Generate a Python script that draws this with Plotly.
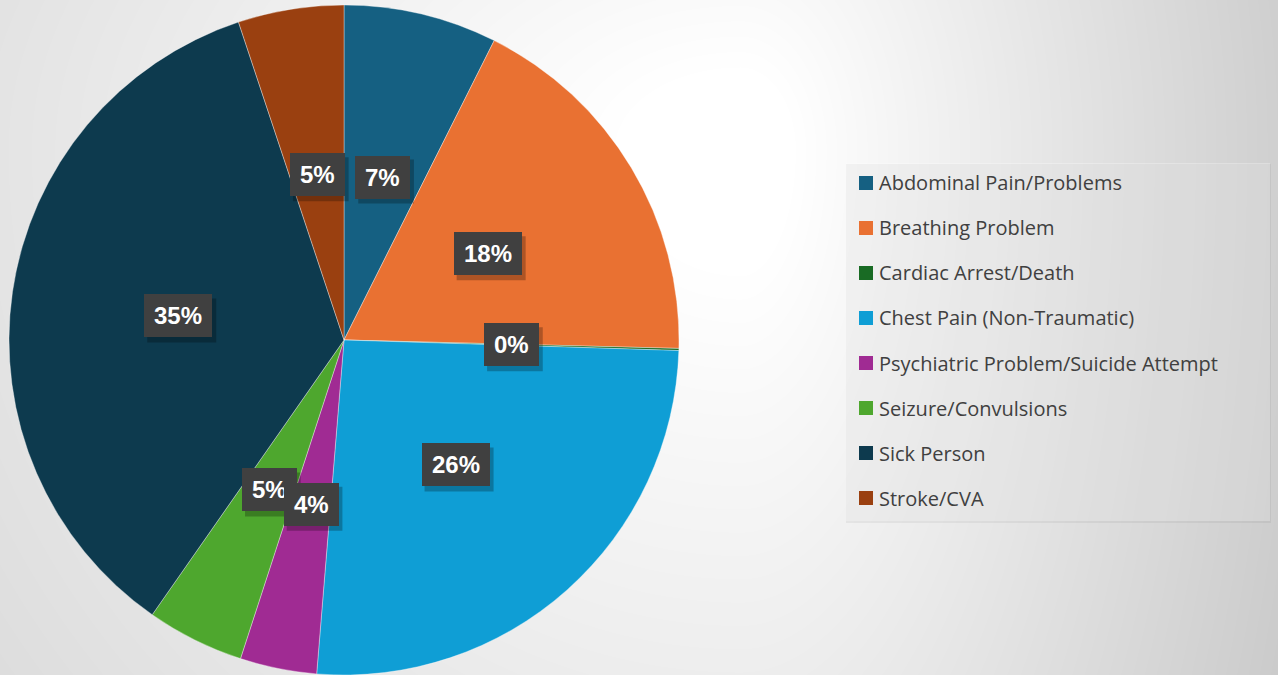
import base64, struct, zlib
import numpy as np
import plotly.graph_objects as go

# ---------------- data ----------------
categories = ["Abdominal Pain/Problems", "Breathing Problem", "Cardiac Arrest/Death",
              "Chest Pain (Non-Traumatic)", "Psychiatric Problem/Suicide Attempt",
              "Seizure/Convulsions", "Sick Person", "Stroke/CVA"]
shares = [7.4, 18.0, 0.1, 25.8, 3.7, 4.7, 35.2, 5.1]
colors = ["#156082", "#E97132", "#196B24", "#0F9ED5", "#A02B93", "#4EA72E", "#0D3A4E", "#9A4010"]

W, H = 1278, 675
CX, CY, R = 344, 340, 335   # pie centre / radius in pixels

# ---------------- background gradient (png data uri) ----------------
def make_bg():
    ys, xs = np.mgrid[0:H, 0:W].astype(float)
    fx, fy = 740.0, 150.0
    dx = np.where(xs < fx, (fx - xs) * 0.66, (xs - fx) * 1.5)
    dy = np.where(ys < fy, (fy - ys) * 1.0, (ys - fy) * 0.66)
    d = np.sqrt(dx ** 2 + dy ** 2)
    drop = 0.065 * np.clip(d - 83, 0, None)
    img = np.clip(255 - drop, 0, 255).astype(np.uint8)
    raw = b"".join(b"\x00" + img[r].tobytes() for r in range(H))
    def chunk(t, data):
        c = struct.pack(">I", len(data)) + t + data
        return c + struct.pack(">I", zlib.crc32(t + data) & 0xffffffff)
    png = b"\x89PNG\r\n\x1a\n" + chunk(b"IHDR", struct.pack(">IIBBBBB", W, H, 8, 0, 0, 0, 0)) \
        + chunk(b"IDAT", zlib.compress(raw, 9)) + chunk(b"IEND", b"")
    return "data:image/png;base64," + base64.b64encode(png).decode()

fig = go.Figure()
fig.add_trace(go.Pie(
    labels=categories, values=shares, sort=False, direction="clockwise", rotation=0,
    marker=dict(colors=colors, line=dict(color="rgba(255,255,255,0.35)", width=1)),
    textinfo="none", hoverinfo="label+percent", showlegend=False,
    domain=dict(x=[(CX - R) / W, (CX + R) / W], y=[1 - (CY + R) / H, 1 - (CY - R) / H]),
))

# ---------------- data labels (computed from the values) ----------------
FS = 24
total = sum(shares)
cum = 0.0
label_anns, shapes = [], []
for v in shares:
    theta = 2 * np.pi * (cum + v / 2) / total
    cum += v
    px = CX + 0.5 * R * np.sin(theta)
    py = CY - 0.5 * R * np.cos(theta)
    pct = str(round(v / total * 100))
    tw = len(pct) * 0.556 * FS + 0.889 * FS + 6      # text-area width estimate
    bw, bh = tw + 14, 43
    # drop shadow
    shapes.append(dict(type="rect", xref="paper", yref="paper", layer="above",
                       x0=(px - bw / 2 + 3) / W, x1=(px + bw / 2 + 4) / W,
                       y0=1 - (py + bh / 2 + 5) / H, y1=1 - (py - bh / 2 + 4) / H,
                       fillcolor="rgba(0,0,0,0.25)", line=dict(width=0)))
    label_anns.append(dict(x=px / W, y=1 - py / H, xref="paper", yref="paper", showarrow=False,
                           xanchor="center", yanchor="middle", borderpad=7, borderwidth=0,
                           width=tw, height=29, align="center", valign="middle",
                           text=f"<b>{pct}%</b>", bgcolor="#404040",
                           font=dict(family="Liberation Sans, Arial", size=FS, color="white")))
annotations = label_anns[::-1]

# ---------------- legend (manual) ----------------
LX0, LY0, LX1, LY1 = 846, 163, 1270, 521
shapes += [
    dict(type="rect", xref="paper", yref="paper", x0=LX0 / W, x1=(LX1 + 1) / W,
         y0=1 - (LY1 + 2) / H, y1=1 - (LY0 + 1) / H, fillcolor="rgba(0,0,0,0.05)", line=dict(width=0), layer="above"),
    dict(type="rect", xref="paper", yref="paper", x0=LX0 / W, x1=LX1 / W,
         y0=1 - LY1 / H, y1=1 - LY0 / H, fillcolor="rgba(255,255,255,0.28)", line=dict(width=0), layer="above"),
]
for i, (lab, col) in enumerate(zip(categories, colors)):
    yc = 183 + 45 * i
    shapes.append(dict(type="rect", xref="paper", yref="paper", x0=859 / W, x1=873 / W,
                       y0=1 - (yc + 7) / H, y1=1 - (yc - 7) / H, fillcolor=col, line=dict(width=0), layer="above"))
    annotations.append(dict(x=877 / W, y=1 - yc / H, xref="paper", yref="paper", showarrow=False,
                            xanchor="left", yanchor="middle", text=lab,
                            font=dict(family="Open Sans", size=20, color="#404040")))

fig.update_layout(
    width=W, height=H, margin=dict(l=0, r=0, t=0, b=0),
    paper_bgcolor="#e4e4e4", plot_bgcolor="rgba(0,0,0,0)",
    images=[dict(source=make_bg(), xref="paper", yref="paper", x=0, y=1, sizex=1, sizey=1,
                 sizing="stretch", xanchor="left", yanchor="top", layer="below")],
    shapes=shapes, annotations=annotations, showlegend=False,
)
fig.write_html("out.html", config={"displayModeBar": False},
               post_script="document.body.style.margin='0';document.body.style.overflow='hidden';")
